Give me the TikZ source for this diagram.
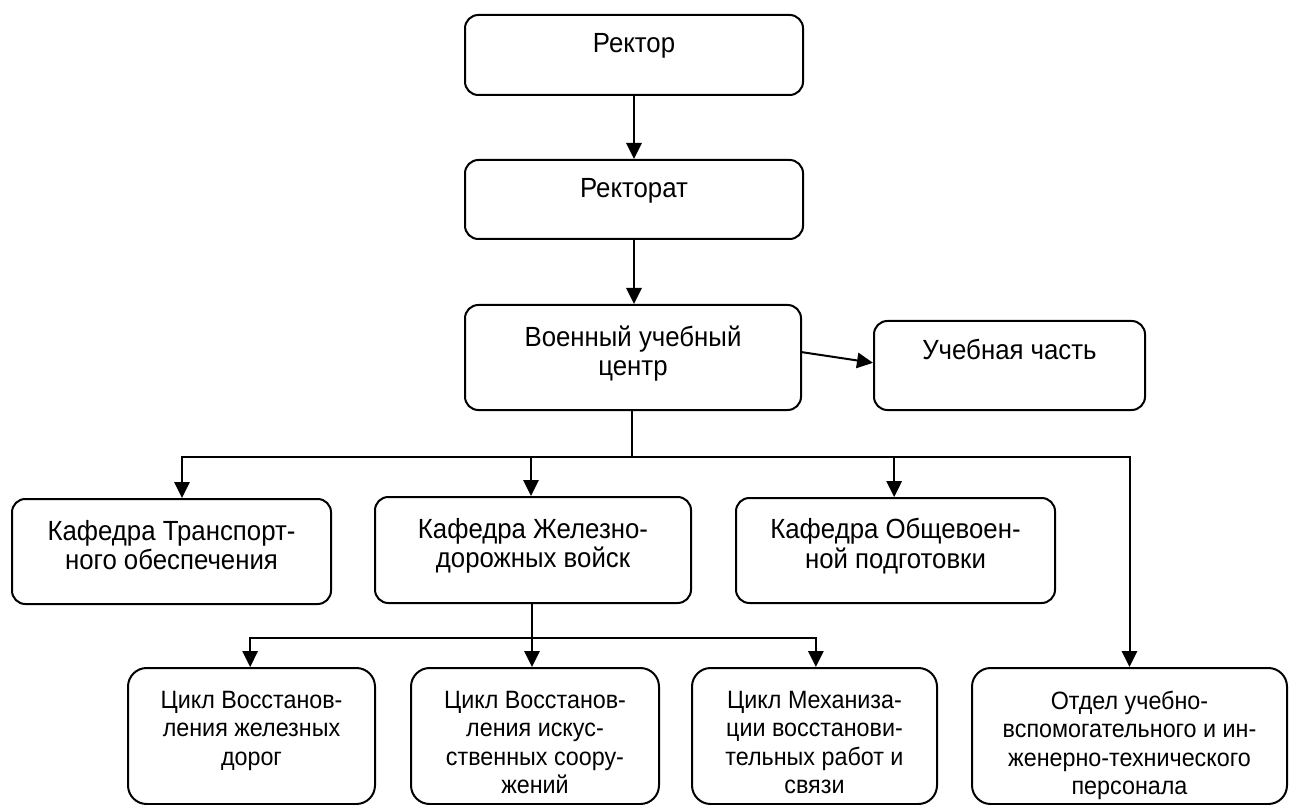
\documentclass[tikz,border=0pt]{standalone}
\usepackage{fontspec}
\setmainfont{Liberation Sans}[FakeStretch=0.93]
\usetikzlibrary{arrows.meta}
\begin{document}
\begin{tikzpicture}[x=0.75pt,y=-0.75pt,
  box/.style={draw,line width=1.5pt,rounded corners=10pt,inner sep=0pt},
  cbox/.style={box,rounded corners=14pt},
  txt/.style={anchor=north,inner sep=0pt,align=center,font=\fontsize{20.8}{22.2}\selectfont},
  ctxt/.style={txt,font=\fontsize{18.8}{21.2}\selectfont},
  arr/.style={line width=1.5pt,-{Triangle[width=11.5pt,length=12pt]}},
  ln/.style={line width=1.5pt}]
\useasboundingbox (0,0) rectangle (1291,805);
% boxes
\node[box,minimum width=253.5pt,minimum height=60pt] (rektor) at (634,55) {};
\node[box,minimum width=253.5pt,minimum height=59.25pt] (rektorat) at (634,199.5) {};
\node[box,minimum width=252pt,minimum height=78.75pt] (vuc) at (633,357.5) {};
\node[box,minimum width=203.25pt,minimum height=66.75pt] (uc) at (1009.5,365.5) {};
\node[box,minimum width=239.25pt,minimum height=78.75pt] (kt) at (171.5,551.5) {};
\node[box,minimum width=237pt,minimum height=79.5pt] (kzd) at (533,550) {};
\node[box,minimum width=239.25pt,minimum height=78.75pt] (ko) at (895.5,550.5) {};
\node[cbox,minimum width=185.25pt,minimum height=102pt] (c1) at (251.5,736) {};
\node[cbox,minimum width=186pt,minimum height=102pt] (c2) at (535,736) {};
\node[cbox,minimum width=183.75pt,minimum height=102pt] (c3) at (814.5,736) {};
\node[cbox,minimum width=236.25pt,minimum height=102pt] (otd) at (1129.5,736) {};
% texts
\node[txt] (t-rektor) at ([yshift=-14.5pt]rektor.north) {Ректор};
\node[txt] (t-rektorat) at ([yshift=-14.5pt]rektorat.north) {Ректорат};
\node[txt] (t-vuc) at ([yshift=-16pt]vuc.north) {Военный учебный\\центр};
\node[txt] (t-uc) at ([yshift=-14.5pt]uc.north) {Учебная часть};
\node[txt] (t-kt) at ([yshift=-16.5pt]kt.north) {Кафедра Транспорт-\\ного обеспечения};
\node[txt] (t-kzd) at ([yshift=-16.5pt]kzd.north) {Кафедра Железно-\\дорожных войск};
\node[txt] (t-ko) at ([yshift=-16pt]ko.north) {Кафедра Общевоен-\\ной подготовки};
\node[ctxt] (t-c1) at ([yshift=-18pt]c1.north) {Цикл Восстанов-\\ления железных\\дорог};
\node[ctxt] (t-c2) at ([yshift=-18pt]c2.north) {Цикл Восстанов-\\ления искус-\\ственных соору-\\жений};
\node[ctxt] (t-c3) at ([yshift=-18pt]c3.north) {Цикл Механиза-\\ции восстанови-\\тельных работ и\\связи};
\node[ctxt] (t-otd) at ([yshift=-18pt]otd.north) {Отдел учебно-\\вспомогательного и ин-\\женерно-технического\\персонала};
% connectors
\draw[arr] (rektor) -- (rektorat);
\draw[arr] (rektorat.south) -- (rektorat.south |- vuc.north);
\draw[arr] ([yshift=4pt]vuc.east) -- ([yshift=2pt]uc.west);
\coordinate (j1) at (632,457);
\coordinate (j2) at (532,638);
\draw[ln] (vuc.south -| j1) -- (j1);
\draw[arr] (j1) -| ([xshift=7.9pt]kt.north);
\draw[arr] (j1) -| (otd.north);
\draw[arr] ([xshift=-1.5pt]kzd.north |- j1) -- ([xshift=-1.5pt]kzd.north);
\draw[arr] ([xshift=-1pt]ko.north |- j1) -- ([xshift=-1pt]ko.north);
\draw[ln] (kzd.south -| j2) -- (j2);
\draw[arr] (j2) -| ([xshift=-1pt]c1.north);
\draw[arr] (j2) -| ([xshift=1pt]c3.north);
\draw[arr] (j2) -- (j2 |- c2.north);
\end{tikzpicture}
\end{document}
